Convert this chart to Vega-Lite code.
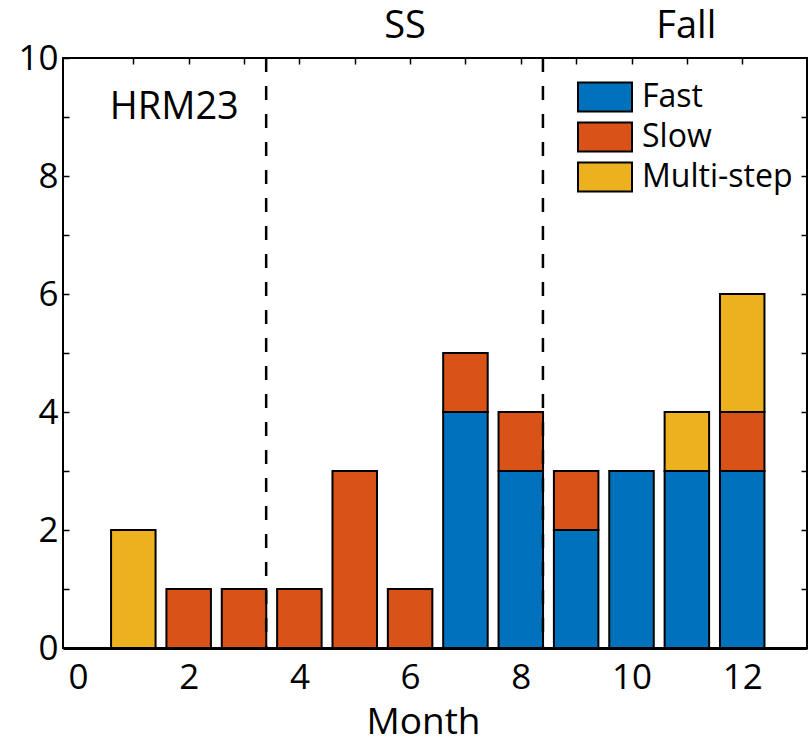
{
  "$schema": "https://vega.github.io/schema/vega-lite/v6.json",
  "autosize": {"type": "none"},
  "padding": {"left": 63, "top": 58, "right": 2, "bottom": 96},
  "width": 744,
  "height": 590,
  "background": "white",
  "config": {
    "view": {"stroke": "black", "strokeWidth": 2},
    "font": "Open Sans",
    "axis": {
      "labelFont": "Open Sans",
      "labelFontSize": 35,
      "labelColor": "black",
      "titleFont": "Open Sans",
      "titleFontSize": 37,
      "titleFontWeight": "normal",
      "titleColor": "black",
      "tickColor": "black",
      "tickWidth": 1.5,
      "grid": false,
      "domain": false
    }
  },
  "datasets": {
    "events": [
      {"month": 1, "type": "Multi-step", "count": 2},
      {"month": 2, "type": "Slow", "count": 1},
      {"month": 3, "type": "Slow", "count": 1},
      {"month": 4, "type": "Slow", "count": 1},
      {"month": 5, "type": "Slow", "count": 3},
      {"month": 6, "type": "Slow", "count": 1},
      {"month": 7, "type": "Fast", "count": 4},
      {"month": 7, "type": "Slow", "count": 1},
      {"month": 8, "type": "Fast", "count": 3},
      {"month": 8, "type": "Slow", "count": 1},
      {"month": 9, "type": "Fast", "count": 2},
      {"month": 9, "type": "Slow", "count": 1},
      {"month": 10, "type": "Fast", "count": 3},
      {"month": 11, "type": "Fast", "count": 3},
      {"month": 11, "type": "Multi-step", "count": 1},
      {"month": 12, "type": "Fast", "count": 3},
      {"month": 12, "type": "Slow", "count": 1},
      {"month": 12, "type": "Multi-step", "count": 2}
    ],
    "seasonBreaks": [
      {"month": 3.4},
      {"month": 8.4}
    ],
    "notes": [
      {"note": "HRM23", "month": 1.74, "count": 8.97},
      {"note": "SS", "month": 5.91, "count": 10.34},
      {"note": "Fall", "month": 10.99, "count": 10.34}
    ]
  },
  "resolve": {"axis": {"x": "independent", "y": "independent"}},
  "layer": [
    {
      "data": {"name": "events"},
      "transform": [
        {"calculate": "indexof(['Fast','Slow','Multi-step'], datum.type)", "as": "stackRank"}
      ],
      "mark": {"type": "bar", "width": 44.5, "stroke": "black", "strokeWidth": 2},
      "encoding": {
        "x": {
          "field": "month",
          "type": "quantitative",
          "scale": {"domain": [-0.18, 13.08], "nice": false, "zero": false},
          "axis": {
            "orient": "bottom",
            "title": "Month",
            "titleX": 360,
            "titlePadding": 9,
            "values": [0, 1, 2, 3, 4, 5, 6, 7, 8, 9, 10, 11, 12],
            "labelExpr": "datum.value % 2 == 0 ? datum.label : ''",
            "tickSize": -6,
            "tickOpacity": {"condition": {"test": "datum.value == 0", "value": 0}, "value": 1},
            "labelPadding": 18,
            "labelFlush": false,
            "domain": true,
            "domainColor": "black",
            "domainWidth": 3
          }
        },
        "y": {
          "field": "count",
          "type": "quantitative",
          "stack": "zero",
          "scale": {"domain": [0, 10], "nice": false},
          "axis": {
            "orient": "left",
            "title": null,
            "values": [0, 1, 2, 3, 4, 5, 6, 7, 8, 9, 10],
            "labelExpr": "datum.value % 2 == 0 ? datum.label : ''",
            "tickSize": -6,
            "labelPadding": 11,
            "labelFlush": false
          }
        },
        "color": {
          "field": "type",
          "type": "nominal",
          "scale": {
            "domain": ["Fast", "Slow", "Multi-step"],
            "range": ["#0072BD", "#D95319", "#EDB120"]
          },
          "legend": {
            "title": null,
            "orient": "none",
            "legendX": 514,
            "legendY": 19,
            "padding": 0,
            "symbolType": "M-1,-0.537H1V0.537H-1Z",
            "symbolSize": 2916,
            "symbolStrokeColor": "black",
            "symbolStrokeWidth": 2,
            "symbolOpacity": 1,
            "labelFont": "Open Sans",
            "labelFontSize": 32,
            "labelColor": "black",
            "labelLimit": 400,
            "labelOffset": 9,
            "clipHeight": 40,
            "rowPadding": 0
          }
        },
        "order": {"field": "stackRank", "type": "quantitative", "sort": "ascending"}
      }
    },
    {
      "data": {"name": "seasonBreaks"},
      "mark": {"type": "rule", "color": "black", "strokeWidth": 2.5, "strokeDash": [14, 14]},
      "encoding": {
        "x": {
          "field": "month",
          "type": "quantitative",
          "axis": {
            "orient": "top",
            "title": null,
            "values": [1, 2, 3, 4, 5, 6, 7, 8, 9, 10, 11, 12],
            "labels": false,
            "tickSize": -6
          }
        }
      }
    },
    {
      "data": {"name": "notes"},
      "mark": {"type": "text", "font": "Open Sans", "fontSize": 38, "color": "black", "align": "center", "baseline": "alphabetic"},
      "encoding": {
        "x": {"field": "month", "type": "quantitative", "axis": null},
        "y": {
          "field": "count",
          "type": "quantitative",
          "axis": {
            "orient": "right",
            "title": null,
            "values": [1, 2, 3, 4, 5, 6, 7, 8, 9],
            "labels": false,
            "tickSize": -6
          }
        },
        "text": {"field": "note"}
      }
    }
  ]
}
